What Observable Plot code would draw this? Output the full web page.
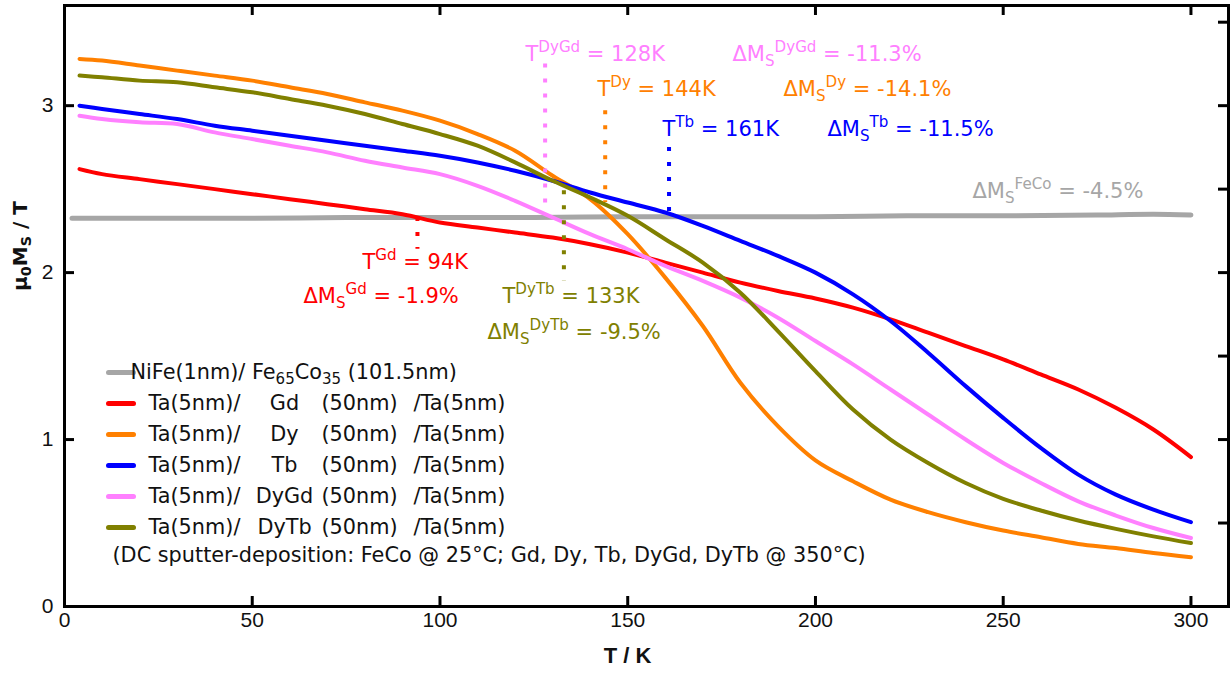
<!DOCTYPE html>
<html>
<head>
<meta charset="utf-8">
<script src="https://cdn.jsdelivr.net/npm/d3@7"></script>
<script src="https://cdn.jsdelivr.net/npm/@observablehq/plot@0.6"></script>
<style>
html, body { margin: 0; padding: 0; background: #fff; }
#chart svg text { white-space: pre; }
</style>
</head>
<body>
<div id="chart"></div>
<script>
// ---------- data ----------
const tempsK = [4, 10, 20, 30, 40, 50, 60, 70, 80, 90, 100, 110, 120, 130, 140, 150,
                160, 170, 180, 190, 200, 210, 220, 230, 240, 250, 260, 270, 280, 290, 300];
const gdM   = [2.62, 2.59, 2.56, 2.53, 2.50, 2.47, 2.44, 2.41, 2.38, 2.35, 2.30, 2.27, 2.24, 2.21, 2.17, 2.12,
               2.06, 2.00, 1.94, 1.89, 1.845, 1.79, 1.72, 1.64, 1.56, 1.48, 1.39, 1.30, 1.19, 1.06, 0.895];
const dyM   = [3.28, 3.27, 3.24, 3.21, 3.18, 3.15, 3.11, 3.07, 3.02, 2.97, 2.91, 2.83, 2.73, 2.58, 2.44, 2.23,
               1.97, 1.68, 1.34, 1.08, 0.875, 0.75, 0.64, 0.565, 0.505, 0.455, 0.415, 0.375, 0.35, 0.32, 0.295];
const tbM   = [3.00, 2.98, 2.95, 2.92, 2.88, 2.85, 2.82, 2.79, 2.76, 2.73, 2.70, 2.66, 2.61, 2.55, 2.48, 2.42,
               2.36, 2.28, 2.19, 2.10, 2.00, 1.87, 1.71, 1.52, 1.32, 1.13, 0.95, 0.79, 0.67, 0.58, 0.505];
const dyGdM = [2.94, 2.92, 2.90, 2.89, 2.84, 2.80, 2.76, 2.72, 2.67, 2.63, 2.59, 2.52, 2.43, 2.33, 2.23, 2.14,
               2.04, 1.95, 1.85, 1.73, 1.59, 1.45, 1.30, 1.15, 1.00, 0.86, 0.74, 0.63, 0.545, 0.47, 0.41];
const dyTbM = [3.18, 3.17, 3.15, 3.14, 3.11, 3.08, 3.04, 3.00, 2.95, 2.89, 2.83, 2.76, 2.66, 2.55, 2.45, 2.34,
               2.20, 2.06, 1.88, 1.65, 1.41, 1.18, 1.00, 0.86, 0.74, 0.645, 0.575, 0.515, 0.465, 0.42, 0.38];
const feCoT = [2, 25, 50, 75, 100, 125, 150, 175, 200, 225, 250, 275, 290, 300];
const feCoM = [2.325, 2.325, 2.325, 2.33, 2.33, 2.33, 2.335, 2.335, 2.335, 2.34, 2.34, 2.345, 2.35, 2.345];

const seriesKeys = ["FeCo", "Gd", "Dy", "Tb", "DyGd", "DyTb"];
const seriesColors = ["#a6a6a6", "#ff0000", "#ff8000", "#0000ff", "#ff80ff", "#808000"];

// legend texts
const legendFirst = "NiFe(1nm)/ Fe_{65}Co_{35} (101.5nm)";
const legendPrefix = "Ta(5nm)/";
const legendElements = ["Gd", "Dy", "Tb", "DyGd", "DyTb"];
const legendThickness = "(50nm)";
const legendSuffix = "/Ta(5nm)";
const legendNote = "(DC sputter-deposition: FeCo @ 25\u00B0C; Gd, Dy, Tb, DyGd, DyTb @ 350\u00B0C)";

// annotations
const annoKeys = ["Gd", "Dy", "Tb", "DyGd", "DyTb"];
const annoT = [94, 144, 161, 128, 133];
const annoDM = ["-1.9%", "-14.1%", "-11.5%", "-11.3%", "-9.5%"];
const annoTop = [2.33, 2.97, 2.75, 3.25, 2.49];
const annoBottom = [2.14, 2.42, 2.36, 2.36, 1.95];
const feCoDM = "-4.5%";

// axis ticks
const xTickValues = [0, 50, 100, 150, 200, 250, 300];
const yTickValues = [0, 1, 2, 3];
const yRightTicks = [0.5, 1, 1.5, 2, 2.5, 3, 3.5];

// ---------- layout ----------
const W = 1230, H = 674;
const mL = 64, mR = 2, mT = 5, mB = 68;
const fW = W - mL - mR, fH = H - mT - mB;
const tickLen = 10;
const colorOf = Object.fromEntries(seriesKeys.map((k, i) => [k, seriesColors[i]]));
const labelFont = 21, legendFont = 20.8;

// label positions (pixel, svg coords)
const tLabelPos = {Gd: [362, 262], Dy: [597, 89], Tb: [662, 129], DyGd: [525, 54], DyTb: [502, 296]};
const dmLabelPos = {Gd: [303, 296], Dy: [783, 89], Tb: [827, 129], DyGd: [732, 54], DyTb: [487, 332], FeCo: [972, 191]};

// ---------- tables ----------
const rows = [];
feCoT.forEach((t, i) => rows.push({key: "FeCo", T: t, M: feCoM[i]}));
const metalSeries = {Gd: gdM, Dy: dyM, Tb: tbM, DyGd: dyGdM, DyTb: dyTbM};
for (const k of ["Gd", "Dy", "Tb", "DyGd", "DyTb"]) {
  tempsK.forEach((t, i) => rows.push({key: k, T: t, M: metalSeries[k][i]}));
}
const annos = annoKeys.map((k, i) => ({key: k, T: annoT[i], dm: annoDM[i], top: annoTop[i], bottom: annoBottom[i]}));

const lineShape = {draw(context, l) { context.moveTo(0, 0); context.lineTo(0, -l); }};

const marks = [];
// data lines
marks.push(Plot.line(rows.filter(d => d.key === "FeCo"), {x: "T", y: "M", stroke: "key", strokeWidth: 5, curve: "monotone-x"}));
marks.push(Plot.line(rows.filter(d => d.key !== "FeCo"), {x: "T", y: "M", z: "key", stroke: "key", strokeWidth: 4, curve: "catmull-rom"}));

// dotted annotation rules
marks.push(Plot.ruleX(annos, {x: "T", y1: "top", y2: "bottom", stroke: "key", strokeWidth: 4, strokeDasharray: "4,11"}));

// annotation labels
for (const a of annos) {
  const [tx, ty] = tLabelPos[a.key];
  marks.push(Plot.text([`T^{${a.key}} = ${a.T}K`], {frameAnchor: "top-left", dx: tx - mL, dy: ty - mT,
    textAnchor: "start", lineAnchor: "middle", fill: colorOf[a.key], fontSize: labelFont}));
  const [mx, my] = dmLabelPos[a.key];
  marks.push(Plot.text([`\u0394M_{S}^{${a.key}} = ${a.dm}`], {frameAnchor: "top-left", dx: mx - mL, dy: my - mT,
    textAnchor: "start", lineAnchor: "middle", fill: colorOf[a.key], fontSize: labelFont}));
}
{
  const [mx, my] = dmLabelPos.FeCo;
  marks.push(Plot.text([`\u0394M_{S}^{FeCo} = ${feCoDM}`], {frameAnchor: "top-left", dx: mx - mL, dy: my - mT,
    textAnchor: "start", lineAnchor: "middle", fill: colorOf.FeCo, fontSize: labelFont}));
}

// legend
const legY0 = 372, legStep = 31;
seriesKeys.forEach((k, i) => {
  const cy = legY0 + legStep * i - mT;
  marks.push(Plot.vector([k], {frameAnchor: "top-left", dx: 108 - mL, dy: cy, rotate: 90, length: 25,
    anchor: "start", shape: lineShape, stroke: colorOf[k], strokeWidth: 5}));
  if (i === 0) {
    marks.push(Plot.text([legendFirst], {frameAnchor: "top-left", dx: 130 - mL, dy: cy, textAnchor: "start",
      lineAnchor: "middle", fontSize: legendFont, fill: "#111"}));
  } else {
    const el = legendElements[i - 1];
    marks.push(Plot.text([legendPrefix], {frameAnchor: "top-left", dx: 148 - mL, dy: cy, textAnchor: "start", lineAnchor: "middle", fontSize: legendFont, fill: "#111"}));
    marks.push(Plot.text([el], {frameAnchor: "top-left", dx: 284 - mL, dy: cy, textAnchor: "middle", lineAnchor: "middle", fontSize: legendFont, fill: "#111"}));
    marks.push(Plot.text([legendThickness], {frameAnchor: "top-left", dx: 321 - mL, dy: cy, textAnchor: "start", lineAnchor: "middle", fontSize: legendFont, fill: "#111"}));
    marks.push(Plot.text([legendSuffix], {frameAnchor: "top-left", dx: 413 - mL, dy: cy, textAnchor: "start", lineAnchor: "middle", fontSize: legendFont, fill: "#111"}));
  }
});
marks.push(Plot.text([legendNote], {frameAnchor: "top-left", dx: 112 - mL, dy: legY0 + legStep * 6 - mT - 3,
  textAnchor: "start", lineAnchor: "middle", fontSize: legendFont, fill: "#111"}));

// frame and ticks (inward)
marks.push(Plot.frame({stroke: "black", strokeWidth: 3}));
marks.push(Plot.tickX(xTickValues.filter(v => v > 0), {x: d => d, insetTop: fH - tickLen, stroke: "black", strokeWidth: 3}));
marks.push(Plot.tickX(xTickValues.filter(v => v > 0), {x: d => d, insetBottom: fH - tickLen, stroke: "black", strokeWidth: 3}));
marks.push(Plot.tickY(yTickValues.filter(v => v > 0), {y: d => d, insetRight: fW - tickLen, stroke: "black", strokeWidth: 3}));
marks.push(Plot.tickY(yRightTicks, {y: d => d, insetLeft: fW - tickLen, stroke: "black", strokeWidth: 3}));

// axis labels
marks.push(Plot.axisX({ticks: xTickValues, tickFormat: d => String(d), tickSize: 0, tickPadding: 6, label: null, fontSize: 21,
  fontFamily: "Liberation Sans", fill: "#111"}));
marks.push(Plot.axisY({ticks: yTickValues, tickFormat: d => String(d), tickSize: 0, tickPadding: 11, label: null, fontSize: 21,
  fontFamily: "Liberation Sans", fill: "#111"}));
marks.push(Plot.text(["T / K"], {frameAnchor: "bottom", dx: -19, dy: 49, textAnchor: "middle", lineAnchor: "middle",
  fontSize: 22, fontWeight: "bold", fontFamily: "Liberation Sans", fill: "#111"}));
marks.push(Plot.text(["\u03BC_{0}M_{S} / T"], {frameAnchor: "left", dx: -44, dy: -60, rotate: -90, textAnchor: "middle",
  lineAnchor: "middle", fontSize: 20, fontWeight: "bold", fill: "#111"}));

const chart = Plot.plot({
  width: W, height: H,
  marginLeft: mL, marginRight: mR, marginTop: mT, marginBottom: mB,
  x: {domain: [0, 310]},
  y: {domain: [0, 3.6]},
  color: {domain: seriesKeys, range: seriesColors},
  style: {fontFamily: "DejaVu Sans", background: "white", overflow: "visible"},
  marks
});
document.getElementById("chart").appendChild(chart);

// rich text: ^{...} superscript, _{...} subscript
function richify(svg) {
  svg.querySelectorAll("text").forEach(t => {
    const tspans = t.querySelectorAll("tspan");
    const targets = tspans.length ? [...tspans] : [t];
    targets.forEach(el => {
      const s = el.textContent;
      if (!/[\^_]\{/.test(s)) return;
      const fs = parseFloat(getComputedStyle(el).fontSize) || 20;
      while (el.firstChild) el.removeChild(el.firstChild);
      const parts = s.split(/(\^\{[^}]*\}|_\{[^}]*\})/).filter(p => p !== "");
      let shift = 0;
      for (const p of parts) {
        const ts = document.createElementNS("http://www.w3.org/2000/svg", "tspan");
        let target = 0, txt = p, small = false;
        if (p.startsWith("^{")) { target = -0.42 * fs; txt = p.slice(2, -1); small = true; }
        else if (p.startsWith("_{")) { target = 0.22 * fs; txt = p.slice(2, -1); small = true; }
        if (target !== shift) ts.setAttribute("dy", (target - shift).toFixed(2));
        shift = target;
        if (small) ts.setAttribute("font-size", (0.72 * fs).toFixed(1));
        ts.textContent = txt;
        el.appendChild(ts);
      }
    });
  });
}
richify(chart);
</script>
</body>
</html>
